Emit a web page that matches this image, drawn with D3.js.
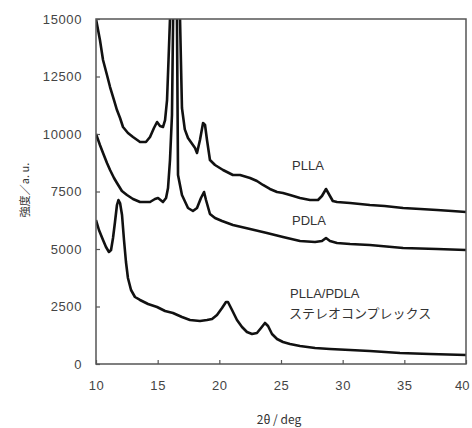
<!DOCTYPE html>
<html><head><meta charset="utf-8">
<script src="https://cdn.jsdelivr.net/npm/d3@7"></script>
<style>
html,body{margin:0;padding:0;background:#fff;}
svg{display:block;}
</style></head><body>
<svg id="c" width="472" height="428"></svg>
<script>
const xTicks = [10, 15, 20, 25, 30, 35, 40];
const yTicks = [0, 2500, 5000, 7500, 10000, 12500, 15000];
const seriesNames = ["PLLA", "PDLA", "PLLA/PDLA\nステレオコンプレックス"];

const pllaAngle = [10.0,10.32,10.57,10.89,11.14,11.46,11.7,11.95,12.19,12.59,13.0,13.57,14.05,14.38,14.7,14.95,15.19,15.43,15.6,15.76,15.88,16.4,16.8,16.97,17.2,17.46,18.03,18.19,18.43,18.68,18.84,19.0,19.24,19.65,20.3,21.1,21.68,22.49,23.05,23.54,24.1,24.68,25.16,25.73,26.54,27.35,28.0,28.32,28.65,28.97,29.2,29.54,30.6,32.2,33.4,34.9,36.3,37.65,38.87,40.0];
const pllaIntensity = [15000,14087,13217,12565,12043,11478,11043,10696,10304,10043,9870,9652,9652,9870,10260,10522,10348,10304,10600,11478,13217,21000,15300,11130,10200,9826,9391,9174,9739,10478,10391,9739,8870,8652,8435,8217,8217,8087,7957,7783,7609,7478,7435,7348,7217,7130,7130,7304,7609,7304,7087,7043,7000,6913,6870,6783,6739,6696,6652,6609];

const pdlaAngle = [10.0,10.32,10.57,10.89,11.14,11.46,11.7,12.1,12.51,13.0,13.57,14.38,14.78,15.03,15.43,15.68,15.84,16.0,16.16,16.45,16.65,16.97,17.46,17.86,18.19,18.51,18.76,18.92,19.24,19.65,20.22,21.1,22.49,23.86,25.16,26.54,27.76,28.32,28.65,28.97,29.54,30.6,32.2,34.9,37.65,40.0];
const pdlaIntensity = [10000,9522,9174,8739,8435,8087,7870,7522,7348,7174,7043,7043,7174,7217,7043,7217,7652,8870,10826,24000,8217,7348,6783,6652,6783,7217,7478,7130,6522,6348,6217,6043,5870,5696,5522,5348,5304,5348,5478,5348,5261,5217,5174,5043,5000,4957];

const scAngle = [10.0,10.24,10.57,10.81,11.05,11.22,11.38,11.54,11.7,11.82,11.95,12.11,12.27,12.43,12.59,12.84,13.16,13.57,14.22,14.95,15.6,16.24,16.97,17.62,18.43,19.0,19.41,19.81,20.22,20.54,20.7,21.03,21.43,21.84,22.24,22.65,23.05,23.38,23.7,23.95,24.27,24.68,25.16,25.73,26.54,27.76,28.97,30.6,32.2,34.65,37.08,40.0];
const scIntensity = [6261,5826,5391,5087,4870,4957,5478,6174,6913,7130,7000,6478,5391,4435,3739,3217,2913,2783,2609,2478,2304,2217,2043,1913,1870,1913,1957,2130,2435,2696,2696,2348,1913,1609,1391,1304,1348,1565,1783,1652,1304,1087,957,870,783,696,652,609,565,478,435,391];

const xLabel = "2θ / deg";
const yLabel = "強度／a. u.";

const L = 96, T = 19, R = 466, B = 364;
const svg = d3.select("#c");
const x = d3.scaleLinear().domain([10, 40]).range([L, R]);
const y = d3.scaleLinear().domain([0, 15000]).range([B, T]);

svg.append("defs").append("clipPath").attr("id", "clip")
  .append("rect").attr("x", L).attr("y", T).attr("width", R - L).attr("height", B - T);

const series = [
  {a: pllaAngle, v: pllaIntensity},
  {a: pdlaAngle, v: pdlaIntensity},
  {a: scAngle, v: scIntensity}
];
const line = d3.line().x(d => x(d[0])).y(d => y(d[1]));
const g = svg.append("g").attr("clip-path", "url(#clip)");
series.forEach(s => {
  g.append("path").datum(s.a.map((a, i) => [a, s.v[i]]))
    .attr("d", line).attr("fill", "none").attr("stroke", "#111")
    .attr("stroke-width", 2.6).attr("stroke-linejoin", "round");
});

// frame
svg.append("rect").attr("x", L).attr("y", T).attr("width", R - L).attr("height", B - T)
  .attr("fill", "none").attr("stroke", "#555").attr("stroke-width", 1.5);

const font = "'Liberation Sans', Arial, sans-serif";
const xAxis = svg.append("g").attr("transform", `translate(0,${B})`)
  .call(d3.axisBottom(x).tickValues(xTicks).tickFormat(d3.format("d"))
    .tickSizeInner(-4).tickSizeOuter(0).tickPadding(17));
const yAxis = svg.append("g").attr("transform", `translate(${L},0)`)
  .call(d3.axisLeft(y).tickValues(yTicks).tickFormat(d3.format("d"))
    .tickSizeInner(-4).tickSizeOuter(0).tickPadding(14));
[xAxis, yAxis].forEach(ax => {
  ax.select(".domain").remove();
  ax.selectAll(".tick line").attr("stroke", "#555").attr("stroke-width", 1.2);
  ax.selectAll(".tick text").attr("fill", "#444").style("font-size", "13px")
    .style("font-family", font).style("letter-spacing", "0.6px");
});
xAxis.selectAll(".tick text").filter(d => d === 40)
  .attr("text-anchor", "end").attr("dx", 3).style("letter-spacing", "0px");

// labels
const lab = (t, px, py, fs) => svg.append("text").attr("x", px).attr("y", py).text(t)
  .attr("fill", "#333").style("font-size", fs + "px").style("font-family", font);
lab(seriesNames[0], 292, 170, 13);
lab(seriesNames[1], 292, 225, 13);
const sc = seriesNames[2].split("\n");
lab(sc[0], 290, 298, 13);
svg.append("text").attr("x", 289).attr("y", 318).text(sc[1])
  .attr("fill", "#333").style("font-size", "13px").style("font-family", "'Noto Sans CJK JP', sans-serif");

svg.append("text").attr("x", 279).attr("y", 424).attr("text-anchor", "middle").text(xLabel)
  .attr("fill", "#333").style("font-size", "12px").style("font-family", "'Noto Sans CJK JP', sans-serif");
svg.append("text").attr("transform", "translate(29,190) rotate(-90)").attr("text-anchor", "middle")
  .text(yLabel).attr("fill", "#333").style("font-size", "11px").style("font-family", "'Noto Sans CJK JP', sans-serif");
</script>
</body></html>
